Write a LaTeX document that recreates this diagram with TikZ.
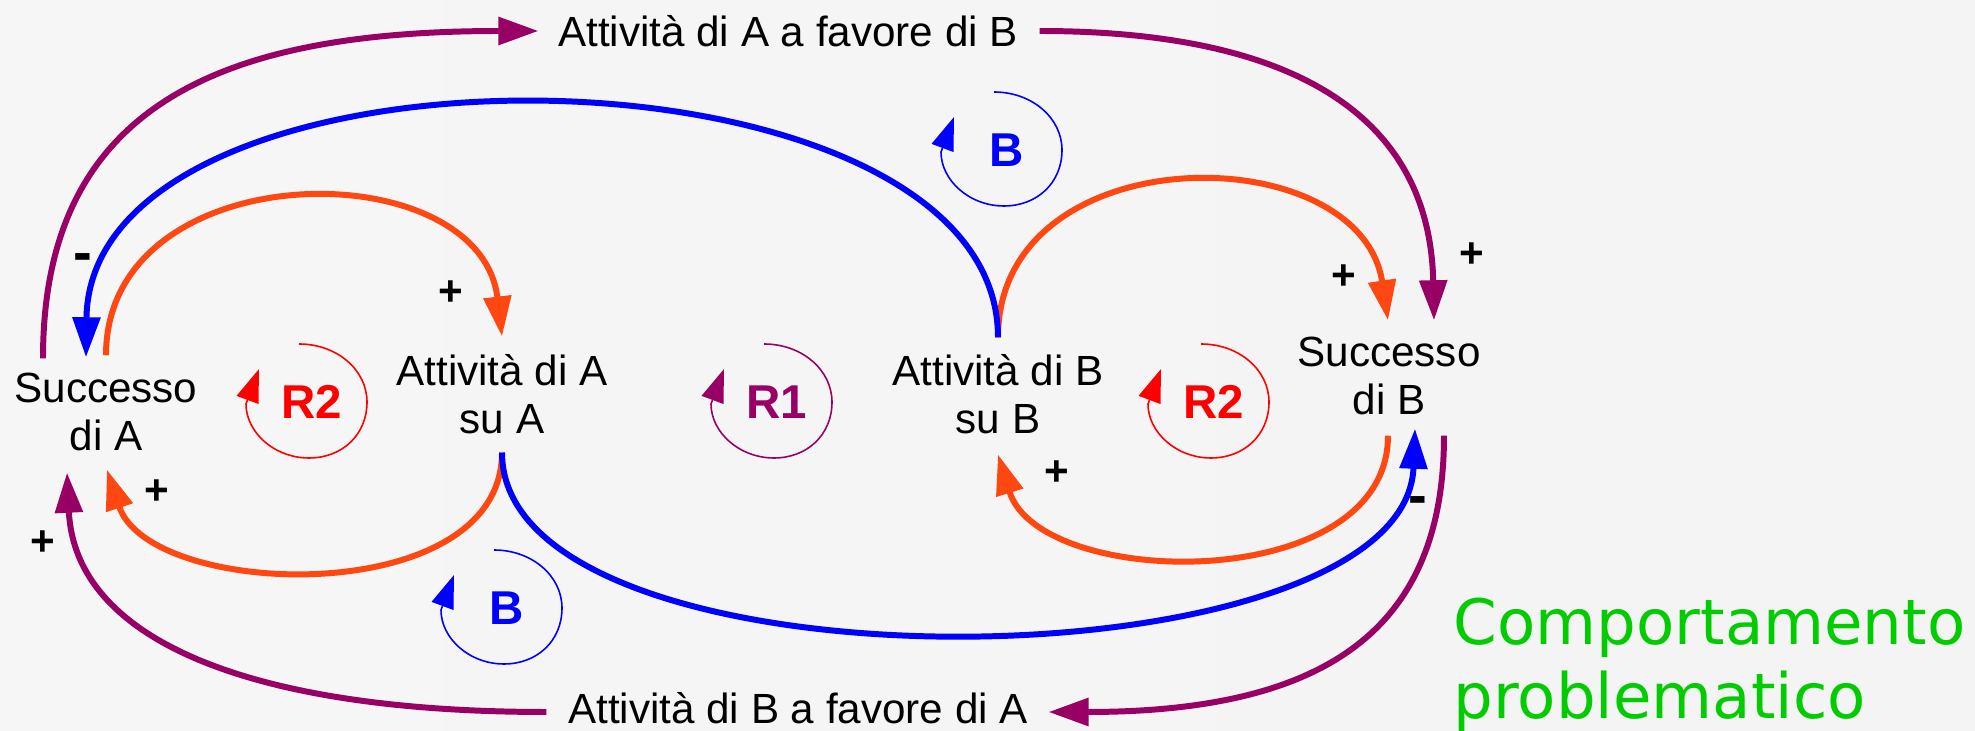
\documentclass[tikz,border=0pt]{standalone}
\usepackage{fontspec}
\setmainfont{Liberation Sans}
\newfontfamily\dejavu{DejaVu Sans}
\usetikzlibrary{arrows.meta, calc}
\definecolor{loopPurple}{RGB}{153,0,102}
\definecolor{loopOrange}{RGB}{255,72,17}
\definecolor{loopBlue}{RGB}{0,0,255}
\definecolor{loopRed}{RGB}{255,0,0}
\definecolor{warnGreen}{RGB}{0,204,0}

% loop marker: name, centre, colour, text
\newcommand{\fbloop}[4]{%
  \node[looplabel, text=#3] (#1) at #2 {#4};
  \draw[loopline, #3] ($(#1)+(-13,-58)$) .. controls +(38,0) and +(0,-32) .. ($(#1)+(55,0)$)
    .. controls +(0,33) and +(33,0) .. ($(#1)+(-3,56)$)
    .. controls +(-35,0) and +(0,28) .. ($(#1)+(-66,2)$) -- ($(#1)+(-53,-33)$);
}

\begin{document}
\begin{tikzpicture}[
    x=0.01cm, y=-0.01cm,
    every node/.style={font=\fontsize{12}{13.7}\selectfont, inner sep=0pt},
    varbox/.style={align=center},
    polarity/.style={font=\fontsize{12}{13.7}\selectfont\bfseries},
    negative/.style={font=\fontsize{16}{18}\selectfont\bfseries},
    looplabel/.style={font=\fontsize{13.5}{15}\selectfont\bfseries},
    loopline/.style={line width=0.45pt, -{Triangle[length=3.3mm, width=2.3mm]}},
    causal/.style={line width=1.7pt, -{Triangle[length=4mm, width=2.7mm]}},
]
\useasboundingbox (0,0) rectangle (1975,731);
\shade[left color=gray!7, middle color=gray!2, right color=gray!9] (0,0) rectangle (1975,731);

\node[varbox] (SA) at (106,412) {Successo\\di A};
\node[varbox] (AA) at (502,394) {Attività di A\\su A};
\node[varbox] (AB) at (998,394) {Attività di B\\su B};
\node[varbox] (SB) at (1389,376) {Successo\\di B};
\node (AfB) at (788,31)  {Attività di A a favore di B};
\node (BfA) at (798,708) {Attività di B a favore di A};

% outer purple loop
\draw[causal, loopPurple] ($(SA.north)+(-63,-14)$) .. controls +(0,-258) and +(-309,0) .. ($(AfB.west)+(-19,0)$);
\draw[causal, loopPurple] ($(AfB.east)+(21,0)$) .. controls +(261,0) and +(-4,-200) .. ($(SB.north)+(45,-16)$);
\draw[causal, loopPurple] ($(SB.south)+(55,20)$) .. controls +(0,194) and +(277,0) .. ($(BfA.east)+(20,4)$);
\draw[causal, loopPurple] ($(BfA.west)+(-21,4)$) .. controls +(-297,0) and +(8,167) .. ($(SA.south)+(-39,21)$);

% own activity loops
\draw[causal, loopOrange] ($(SA.north)+(0,-17)$) .. controls +(0,-203) and +(-22,-187) .. ($(AA.north)+(0,-17)$);
\draw[causal, loopOrange] ($(AA.south)+(0,18)$) .. controls +(0,158) and +(43,130) .. ($(SA.south)+(1,18)$);
\draw[causal, loopOrange] ($(AB.north)+(0,-16)$) .. controls +(0,-203) and +(-28,-185) .. ($(SB.north)+(-1,-16)$);
\draw[causal, loopOrange] ($(SB.south)+(-1,20)$) .. controls +(0,160) and +(42,136) .. ($(AB.south)+(0,20)$);

% balancing links
\draw[causal, loopBlue] ($(AB.north)+(0,-16)$) .. controls +(0,-308) and +(4,-337) .. ($(SA.north)+(-20,-15)$);
\draw[causal, loopBlue] ($(AA.south)+(0,18)$) .. controls +(0,248) and +(-10,262) .. ($(SB.south)+(26,13)$);

\node[negative] (s1) at (83,263)   {-};
\node[polarity] (s2) at (451,293)  {+};
\node[polarity] (s3) at (157,492)  {+};
\node[polarity] (s4) at (43,543)   {+};
\node[polarity] (s5) at (1344,277) {+};
\node[polarity] (s6) at (1472,255) {+};
\node[polarity] (s7) at (1057,473) {+};
\node[negative] (s8) at (1418,506) {-};

\fbloop{R2a}{(312,402)}{loopRed}{R2}
\fbloop{R1}{(777,402)}{loopPurple}{R1}
\fbloop{R2b}{(1214,402)}{loopRed}{R2}
\fbloop{Btop}{(1007,150)}{loopBlue}{B}
\fbloop{Bbot}{(507,608)}{loopBlue}{B}

\node[anchor=north west, align=left, text=warnGreen,
      font=\dejavu\fontsize{17.8}{21}\selectfont] (warn) at (1453,597) {Comportamento\\problematico};
\end{tikzpicture}
\end{document}
